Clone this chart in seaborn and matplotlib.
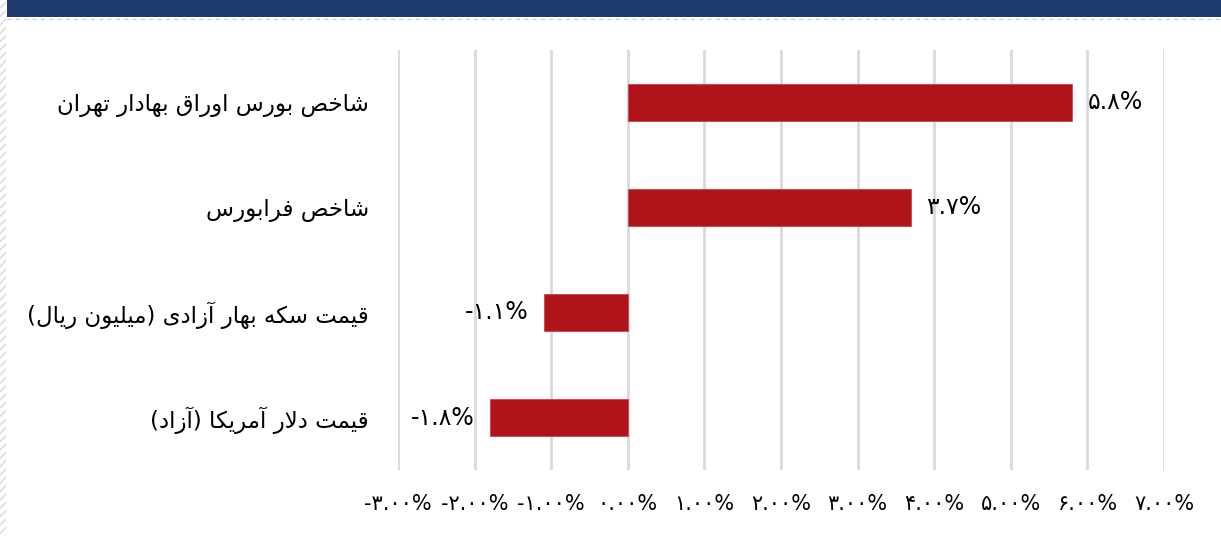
import numpy as np
import pandas as pd
import matplotlib
matplotlib.use('Agg')
import matplotlib.pyplot as plt
import seaborn as sns
from matplotlib.patches import Rectangle
from matplotlib.ticker import FuncFormatter, MultipleLocator

categories = ['شاخص بورس اوراق بهادار تهران', 'شاخص فرابورس',
              'قیمت سکه بهار آزادی (میلیون ریال)', 'قیمت دلار آمریکا (آزاد)']
values = [5.8, 3.7, -1.1, -1.8]

# --- minimal Persian shaping (matplotlib has no bidi/shaping) ---
FORMS = {
    'آ': (0xFE81, 0xFE82), 'ا': (0xFE8D, 0xFE8E),
    'ب': (0xFE8F, 0xFE90, 0xFE91, 0xFE92), 'ت': (0xFE95, 0xFE96, 0xFE97, 0xFE98),
    'خ': (0xFEA5, 0xFEA6, 0xFEA7, 0xFEA8), 'د': (0xFEA9, 0xFEAA),
    'ر': (0xFEAD, 0xFEAE), 'ز': (0xFEAF, 0xFEB0),
    'س': (0xFEB1, 0xFEB2, 0xFEB3, 0xFEB4), 'ش': (0xFEB5, 0xFEB6, 0xFEB7, 0xFEB8),
    'ص': (0xFEB9, 0xFEBA, 0xFEBB, 0xFEBC), 'ف': (0xFED1, 0xFED2, 0xFED3, 0xFED4),
    'ق': (0xFED5, 0xFED6, 0xFED7, 0xFED8), 'ک': (0xFB8E, 0xFB8F, 0xFEDB, 0xFEDC),
    'ل': (0xFEDD, 0xFEDE, 0xFEDF, 0xFEE0), 'م': (0xFEE1, 0xFEE2, 0xFEE3, 0xFEE4),
    'ن': (0xFEE5, 0xFEE6, 0xFEE7, 0xFEE8), 'ه': (0xFEE9, 0xFEEA, 0xFEEB, 0xFEEC),
    'و': (0xFEED, 0xFEEE), 'ی': (0xFEEF, 0xFEF0, 0xFEF3, 0xFEF4),
}


def shape(text):
    # merge lam+alef into ligature markers
    chars = []
    i = 0
    while i < len(text):
        if text[i] == 'ل' and i + 1 < len(text) and text[i + 1] == 'ا':
            chars.append('LA')
            i += 2
        else:
            chars.append(text[i])
            i += 1

    def joins_next(c):
        return c in FORMS and len(FORMS[c]) == 4

    def is_letter(c):
        return c in FORMS or c == 'LA'

    out = []
    for k, c in enumerate(chars):
        prev = chars[k - 1] if k > 0 else None
        nxt = chars[k + 1] if k + 1 < len(chars) else None
        left = prev is not None and joins_next(prev)
        if c == 'LA':
            out.append(chr(0xFEFC if left else 0xFEFB))
            continue
        if c not in FORMS:
            out.append({'(': ')', ')': '('}.get(c, c))
            continue
        f = FORMS[c]
        right = len(f) == 4 and nxt is not None and is_letter(nxt)
        if left and right:
            out.append(chr(f[3]))
        elif left:
            out.append(chr(f[1]))
        elif right:
            out.append(chr(f[2]))
        else:
            out.append(chr(f[0]))
    return ''.join(reversed(out))


def fa_digits(s):
    return s.translate(str.maketrans('0123456789', '۰۱۲۳۴۵۶۷۸۹'))


df = pd.DataFrame({'label': [shape(c) for c in categories], 'value': values})

sns.set_style('white')
plt.rcParams['font.family'] = ['DejaVu Sans']
plt.rcParams['text.color'] = 'black'
plt.rcParams['xtick.color'] = 'black'
plt.rcParams['ytick.color'] = 'black'

fig = plt.figure(figsize=(12.21, 5.36), dpi=100)
ax = fig.add_axes([0.326, 0.123, 0.6274, 0.784])

sns.barplot(data=df, x='value', y='label', orient='h', color='#B0131A',
            width=0.35, saturation=1, edgecolor='#C9444A', linewidth=0.6, ax=ax)

ax.set_xlim(-3, 7)
ax.set_ylim(3.5, -0.5)
ax.xaxis.set_major_locator(MultipleLocator(1))
ax.xaxis.set_major_formatter(FuncFormatter(lambda v, p: fa_digits(f'{v:.2f}%')))
ax.grid(axis='x', color='#D9D9D9', linewidth=2)
ax.set_axisbelow(True)
for s in ax.spines.values():
    s.set_visible(False)
ax.tick_params(axis='x', length=0, pad=17, labelsize=15, labelcolor='black')
ax.tick_params(axis='y', length=0, pad=21, labelsize=16.5, labelcolor='black')
ax.set_xlabel('')
ax.set_ylabel('')

for i, v in enumerate(values):
    txt = fa_digits(f'{v:.1f}%')
    if v >= 0:
        ax.text(v + 0.2, i, txt, ha='left', va='center', fontsize=17, color='black')
    else:
        ax.text(v - 0.2, i, txt, ha='right', va='center', fontsize=17, color='black')

# header banner and side strip
fig.patches.append(Rectangle((0.006, 1 - 17 / 536), 1, 17 / 536, transform=fig.transFigure,
                             facecolor='#1E3C6F', edgecolor='none'))
fig.add_artist(plt.Line2D([0.006, 1], [1 - 19 / 536, 1 - 19 / 536], transform=fig.transFigure,
                          color='#CFCFCF', linewidth=1, linestyle=(0, (3, 3))))
fig.patches.append(Rectangle((0, 0), 0.005, 1, transform=fig.transFigure,
                             facecolor='white', edgecolor='#D8D8D8', hatch='////', linewidth=0))

fig.savefig('out.png', dpi=100)
